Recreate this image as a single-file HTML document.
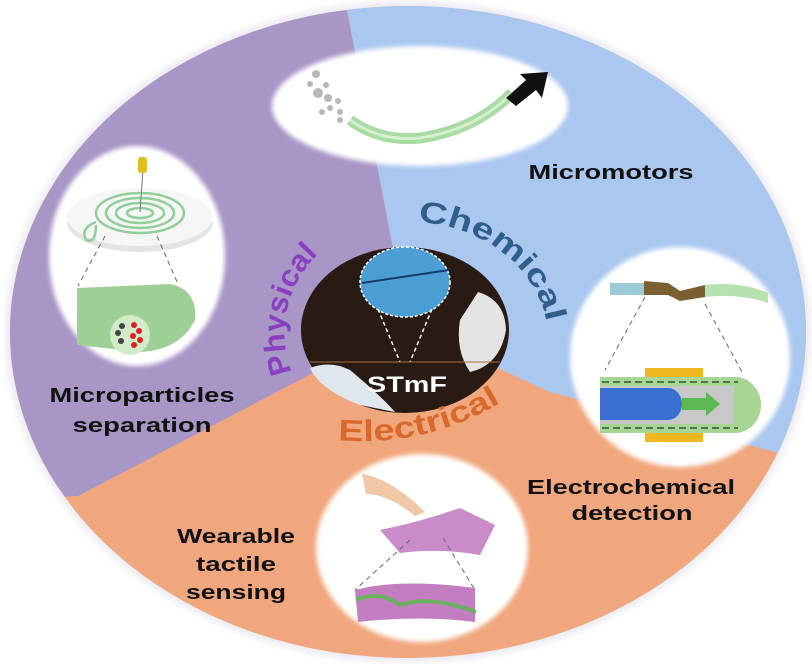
<!DOCTYPE html>
<html><head><meta charset="utf-8"><style>
html,body{margin:0;padding:0;background:#fff;width:812px;height:664px;overflow:hidden}
svg{display:block}
text{font-family:"Liberation Sans",sans-serif;font-weight:bold}
</style></head><body>
<svg width="812" height="664" viewBox="0 0 812 664" xmlns="http://www.w3.org/2000/svg">
<defs>
<clipPath id="oc"><ellipse cx="408" cy="332" rx="398" ry="326"/></clipPath>
<filter id="bl" x="-20%" y="-20%" width="140%" height="140%"><feGaussianBlur stdDeviation="4"/></filter>
<filter id="bl2"><feGaussianBlur stdDeviation="2.5"/></filter>
<path id="pPhys" d="M292,372 A118,112 0 0 1 336,240"/>
<path id="pChem" d="M418,222 A140,118 0 0 1 548,336"/>
<path id="pElec" d="M338,440 Q430,448 508,398"/>
</defs>
<ellipse cx="408" cy="332" rx="402" ry="330" fill="#e8e8f0" filter="url(#bl)"/>
<g clip-path="url(#oc)">
<rect x="0" y="0" width="812" height="664" fill="#f0a77d"/>
<polygon points="345,0 0,0 0,500 78,496 313,373 393,248" fill="#a896c6"/>
<polygon points="345,0 812,0 812,462 550,392 480,360 393,248" fill="#aac7ef"/>
</g>
<!-- satellite ellipses -->
<ellipse cx="420" cy="106" rx="148" ry="60" fill="#fff" filter="url(#bl2)"/>
<ellipse cx="137" cy="256" rx="88" ry="110" fill="#fff" filter="url(#bl2)"/>
<ellipse cx="680" cy="357" rx="110" ry="110" fill="#fff" filter="url(#bl2)"/>
<ellipse cx="422" cy="548" rx="106" ry="94" fill="#fff" filter="url(#bl2)"/>
<!-- micromotor -->
<path d="M350,120 Q380,142 420,138 Q475,130 512,93" stroke="#a9dba4" stroke-width="11" fill="none"/>
<path d="M350,120 Q380,142 420,138 Q475,130 512,93" stroke="#d5f0d0" stroke-width="3" fill="none"/>
<polygon points="506,98 526,80 520,74 548,72 542,98 536,90 516,106" fill="#111"/>
<g fill="#b8b8b8"><circle cx="316" cy="74" r="4"/><circle cx="310" cy="84" r="3"/><circle cx="318" cy="93" r="5"/><circle cx="328" cy="98" r="4"/><circle cx="338" cy="101" r="3"/><circle cx="330" cy="108" r="3"/><circle cx="340" cy="112" r="3"/><circle cx="322" cy="112" r="3"/><circle cx="340" cy="120" r="3"/><circle cx="326" cy="85" r="3"/></g>
<!-- spiral -->
<ellipse cx="140" cy="222" rx="73" ry="30" fill="#e4e4e4"/>
<ellipse cx="140" cy="217" rx="73" ry="29" fill="#f6f6f6"/>
<g fill="none" stroke="#8fcf98" stroke-width="2.5"><ellipse cx="140" cy="213" rx="44" ry="20"/><ellipse cx="140" cy="213" rx="34" ry="15"/><ellipse cx="140" cy="213" rx="24" ry="10"/><ellipse cx="140" cy="213" rx="13" ry="5"/></g>
<path d="M96,222 Q80,228 86,240 Q96,244 96,225" stroke="#8fcf98" stroke-width="2.5" fill="none"/>
<line x1="143" y1="170" x2="140" y2="212" stroke="#777" stroke-width="1"/>
<rect x="138" y="157" width="9" height="16" rx="3" fill="#e0c020"/>
<g stroke="#666" stroke-dasharray="5,4" fill="none"><line x1="105" y1="236" x2="78" y2="286"/><line x1="157" y1="236" x2="178" y2="284"/></g>
<path d="M77,288 L170,284 Q198,290 195,320 Q180,350 140,352 L77,345 Z" fill="#9ed096"/>
<ellipse cx="130" cy="335" rx="20" ry="20" fill="#d2ecc9"/>
<g fill="#444"><circle cx="122" cy="326" r="3"/><circle cx="118" cy="333" r="3"/><circle cx="121" cy="341" r="3"/></g>
<g fill="#e02020"><circle cx="134" cy="325" r="3"/><circle cx="139" cy="331" r="3"/><circle cx="133" cy="336" r="3"/><circle cx="140" cy="340" r="3"/><circle cx="134" cy="345" r="3"/></g>
<!-- electrochemical -->
<rect x="610" y="283" width="34" height="12" fill="#9ccbd8"/>
<path d="M644,281 L668,283 L680,291 L705,285 L705,297 L680,301 L668,295 L644,295Z" fill="#7a6030"/>
<path d="M705,285 Q740,281 768,293 L768,303 Q740,293 705,297Z" fill="#b6e2b0"/>
<g stroke="#666" stroke-dasharray="5,4" fill="none"><line x1="645" y1="297" x2="605" y2="370"/><line x1="705" y1="304" x2="742" y2="372"/></g>
<rect x="645" y="368" width="58" height="18" fill="#f0b820"/>
<rect x="645" y="426" width="58" height="16" fill="#f0b820"/>
<path d="M600,377 L735,377 A26,28 0 0 1 735,433 L600,433Z" fill="#a7d594"/>
<rect x="600" y="386" width="134" height="38" fill="#c8c8c8"/>
<path d="M600,388 L668,388 A14,16 0 0 1 668,420 L600,420Z" fill="#3a6ed0"/>
<polygon points="682,398 706,398 706,392 720,404 706,416 706,410 682,410" fill="#5cb850"/>
<g stroke="#2a5a2a" stroke-dasharray="7,4" stroke-width="1.5"><line x1="602" y1="382" x2="738" y2="382"/><line x1="602" y1="428" x2="738" y2="428"/></g>
<!-- wearable -->
<path d="M362,474 Q390,478 425,512 L415,516 Q388,494 366,494Z" fill="#f0c8a8"/>
<path d="M380,530 Q420,522 460,508 L495,525 L480,555 Q440,548 400,553Z" fill="#c98cc8"/>
<g stroke="#666" stroke-dasharray="5,4" fill="none"><line x1="410" y1="540" x2="355" y2="590"/><line x1="443" y1="538" x2="475" y2="590"/></g>
<path d="M355,590 Q400,578 475,588 L475,622 Q420,615 358,622Z" fill="#c27ec0"/>
<path d="M356,600 Q380,590 400,605 Q430,595 476,612" stroke="#6ab060" stroke-width="4" fill="none"/>
<!-- center -->
<ellipse cx="405" cy="330" rx="104" ry="83" fill="#2a1a14"/>
<path d="M310,368 Q330,360 350,370 Q380,395 395,412 L360,405 Q320,390 310,368Z" fill="#dfe6ee"/>
<path d="M478,292 Q505,300 506,330 Q500,365 470,372 Q455,350 460,320Z" fill="#e4e4e4"/>
<ellipse cx="405" cy="282" rx="45" ry="35" fill="#4a9ed4" stroke="#fff" stroke-width="1.5" stroke-dasharray="3,2"/>
<line x1="362" y1="283" x2="449" y2="270" stroke="#1a3a6a" stroke-width="2"/>
<g stroke="#fff" stroke-dasharray="4,3" stroke-width="1.5"><line x1="378" y1="309" x2="400" y2="362"/><line x1="432" y1="309" x2="410" y2="362"/></g>
<line x1="310" y1="362" x2="500" y2="362" stroke="#a07040" stroke-width="1"/>
<text x="407" y="392" font-size="22" fill="#fff" text-anchor="middle" textLength="80" lengthAdjust="spacingAndGlyphs">STmF</text>
<!-- arc labels -->
<text font-size="30" fill="#8a3fc0"><textPath href="#pPhys" textLength="128" lengthAdjust="spacingAndGlyphs">Physical</textPath></text>
<text font-size="30" fill="#2f5d8c"><textPath href="#pChem" textLength="175" lengthAdjust="spacingAndGlyphs">Chemical</textPath></text>
<text font-size="30" fill="#d8692a"><textPath href="#pElec" textLength="170" lengthAdjust="spacingAndGlyphs">Electrical</textPath></text>
<!-- labels -->
<g font-size="20" fill="#111" text-anchor="middle">
<text x="611" y="179" textLength="165" lengthAdjust="spacingAndGlyphs">Micromotors</text>
<text x="142" y="402" textLength="185" lengthAdjust="spacingAndGlyphs">Microparticles</text>
<text x="142" y="432" textLength="139" lengthAdjust="spacingAndGlyphs">separation</text>
<text x="631" y="494" textLength="208" lengthAdjust="spacingAndGlyphs">Electrochemical</text>
<text x="632" y="520" textLength="121" lengthAdjust="spacingAndGlyphs">detection</text>
<text x="236" y="543" textLength="118" lengthAdjust="spacingAndGlyphs">Wearable</text>
<text x="236" y="571" textLength="80" lengthAdjust="spacingAndGlyphs">tactile</text>
<text x="236" y="599" textLength="100" lengthAdjust="spacingAndGlyphs">sensing</text>
</g>
</svg>
</body></html>
